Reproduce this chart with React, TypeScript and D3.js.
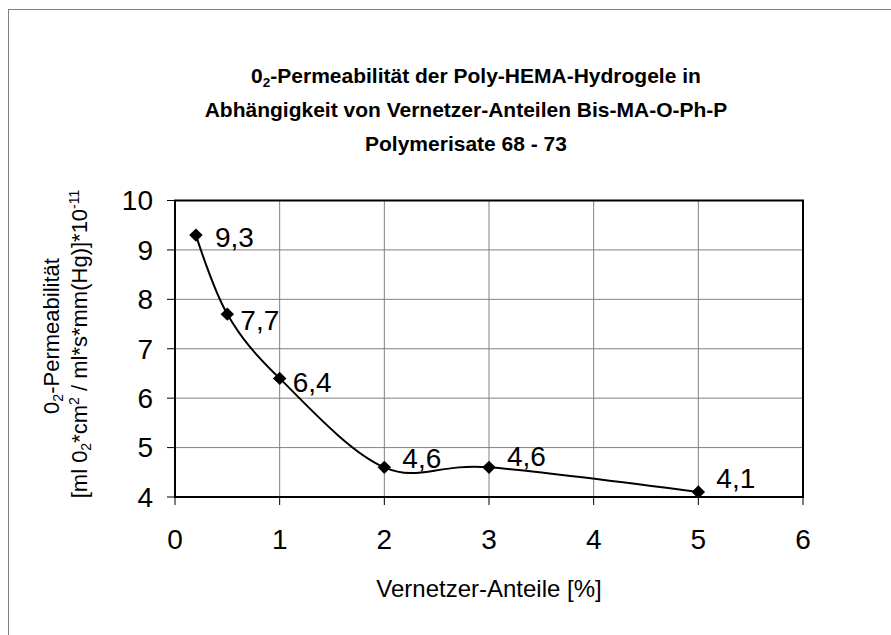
import React from "react";
import * as d3 from "d3";

const xValues = [0.2, 0.5, 1, 2, 3, 5];
const yValues = [9.3, 7.7, 6.4, 4.6, 4.6, 4.1];
const pointLabels = ["9,3", "7,7", "6,4", "4,6", "4,6", "4,1"];
const xTicks = [0, 1, 2, 3, 4, 5, 6];
const yTicks = [4, 5, 6, 7, 8, 9, 10];
const titleLine2 = "Abhängigkeit von Vernetzer-Anteilen Bis-MA-O-Ph-P";
const titleLine3 = "Polymerisate 68 - 73";
const xTitle = "Vernetzer-Anteile [%]";

// label placement (layout, not data): [dx, dy] from marker
const labelOffsets = [
  [19, 2],
  [13, 6],
  [13, 4],
  [18, -9],
  [18, -11],
  [18, -14],
];

const W = 891;
const H = 635;
const M = { left: 175, right: 803, top: 200.5, bottom: 497 };
const FONT = "'Liberation Sans', Arial, sans-serif";

export default function App() {
  const x = d3.scaleLinear().domain([0, 6]).range([M.left, M.right]);
  const y = d3.scaleLinear().domain([4, 10]).range([M.bottom, M.top]);
  const pts = xValues.map((v, i) => [x(v), y(yValues[i])] as [number, number]);
  const line = d3.line().curve(d3.curveCatmullRom.alpha(0))(pts) || "";
  const diamond = d3.symbol().type(d3.symbolDiamond2).size(115)() || "";

  return (
    <svg
      width={W}
      height={H}
      style={{ position: "absolute", left: 0, top: 0, background: "#fff" }}
      fontFamily={FONT}
    >
      <rect x={0} y={0} width={W} height={H} fill="#fff" />
      {/* outer chart frame */}
      <rect x={8.5} y={9.5} width={W + 20} height={H + 20} fill="none" stroke="#808080" strokeWidth={1} />

      {/* title */}
      <g fontWeight="bold" fontSize={21} textAnchor="middle" fill="#000">
        <text x={476} y={83}>
          <tspan>0</tspan>
          <tspan fontSize={13.5} dy={4}>2</tspan>
          <tspan dy={-4}>-Permeabilität der Poly-HEMA-Hydrogele in</tspan>
        </text>
        <text x={466} y={117}>{titleLine2}</text>
        <text x={466} y={151}>{titleLine3}</text>
      </g>

      {/* grid */}
      <g stroke="#808080" strokeWidth={1}>
        {xTicks.slice(1, -1).map((t) => (
          <line key={"gx" + t} x1={x(t)} x2={x(t)} y1={M.top} y2={M.bottom} />
        ))}
        {yTicks.slice(1, -1).map((t) => (
          <line key={"gy" + t} x1={M.left} x2={M.right} y1={y(t)} y2={y(t)} />
        ))}
      </g>

      {/* ticks */}
      <g stroke="#000" strokeWidth={1}>
        {xTicks.map((t) => (
          <line key={"tx" + t} x1={x(t)} x2={x(t)} y1={M.bottom} y2={M.bottom + 8} />
        ))}
        {yTicks.map((t) => (
          <line key={"ty" + t} x1={M.left - 8} x2={M.left} y1={y(t)} y2={y(t)} />
        ))}
      </g>

      {/* plot border */}
      <rect
        x={M.left}
        y={M.top}
        width={M.right - M.left}
        height={M.bottom - M.top}
        fill="none"
        stroke="#000"
        strokeWidth={2}
      />

      {/* tick labels */}
      <g fontSize={28} fill="#000">
        {xTicks.map((t) => (
          <text key={"lx" + t} x={x(t)} y={549} textAnchor="middle">
            {t}
          </text>
        ))}
        {yTicks.map((t) => (
          <text key={"ly" + t} x={153} y={y(t)} dy="0.35em" textAnchor="end">
            {t}
          </text>
        ))}
      </g>

      {/* axis titles */}
      <text x={489} y={597} fontSize={24} textAnchor="middle" fill="#000">
        {xTitle}
      </text>
      <g fontSize={22} fill="#000" textAnchor="middle">
        <text transform="translate(59,336) rotate(-90)">
          <tspan>0</tspan>
          <tspan fontSize={14} dy={4}>2</tspan>
          <tspan dy={-4}>-Permeabilität</tspan>
        </text>
        <text transform="translate(87,344) rotate(-90)">
          <tspan>[ml 0</tspan>
          <tspan fontSize={14} dy={4}>2</tspan>
          <tspan dy={-4}>*cm</tspan>
          <tspan fontSize={14} dy={-8}>2</tspan>
          <tspan dy={8}> / ml*s*mm(Hg)]*10</tspan>
          <tspan fontSize={14} dy={-8}>-11</tspan>
        </text>
      </g>

      {/* curve */}
      <path d={line} fill="none" stroke="#000" strokeWidth={2} />

      {/* markers */}
      {pts.map((p, i) => (
        <path key={"m" + i} d={diamond} transform={`translate(${p[0]},${p[1]})`} fill="#000" />
      ))}

      {/* data labels */}
      <g fontSize={28} fill="#000">
        {pts.map((p, i) => (
          <text
            key={"dl" + i}
            x={p[0] + labelOffsets[i][0]}
            y={p[1] + labelOffsets[i][1]}
            dy="0.35em"
          >
            {pointLabels[i]}
          </text>
        ))}
      </g>
    </svg>
  );
}
